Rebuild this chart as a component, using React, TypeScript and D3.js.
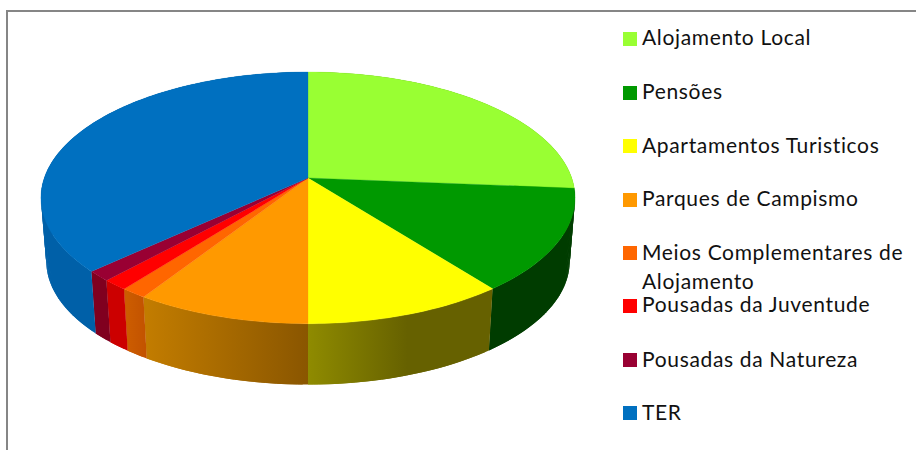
import React from "react";
import * as d3 from "d3";

const categories = [
  "Alojamento Local",
  "Pensões",
  "Apartamentos Turisticos",
  "Parques de Campismo",
  "Meios Complementares de|Alojamento",
  "Pousadas da Juventude",
  "Pousadas da Natureza",
  "TER",
];
const values = [26.3, 13.2, 10.5, 9.1, 1.35, 1.35, 1.3, 36.9];
const topColors = ["#99FF33", "#009900", "#FFFF00", "#FF9900", "#FF6600", "#FF0000", "#990033", "#0070C0"];
const wallLeft = ["#6FBF22", "#003C00", "#8F8B00", "#C27C00", "#CC5C00", "#CC0000", "#80001F", "#0060A8"];
const wallRight = ["#6FBF22", "#003C00", "#666100", "#8A5600", "#C25200", "#CC0000", "#80001F", "#00659F"];
const wallRamp = [1, 1, 0.55, 1, 1, 1, 1, 1];
const legendY = [39, 93, 146, 200, 253, 306, 360, 413];
const legendBaseline = [45, 98.5, 153, 206, 260, 312, 367, 420];

const W = 916;
const H = 450;
const CX = 308;
const CY = 178;
const RX = 263.7;
const SY = 122.7;
const K = -0.1577;
const WALL_SCALE = 0.98;
const VANISH_Y = 3370;

type P = [number, number];
const rimTop = (t: number): P => {
  const u = Math.sin(t);
  const v = -Math.cos(t);
  const d = 1 + K * v;
  return [CX + (RX * u) / d, CY + (SY * v) / d];
};
const rimBottom = (t: number): P => {
  const [x, y] = rimTop(t);
  return [CX + (x - CX) * WALL_SCALE, VANISH_Y + (y - VANISH_Y) * WALL_SCALE];
};
const line = d3.line<P>();
const sample = (a: number, b: number) => {
  const n = Math.max(2, Math.ceil(((b - a) * 180) / Math.PI));
  return d3.range(n + 1).map((i) => a + ((b - a) * i) / n);
};

export default function App() {
  const arcs = d3
    .pie<number>()
    .sort(null)
    .startAngle(0)
    .endAngle(2 * Math.PI)(values);

  return (
    <svg
      width={W}
      height={H}
      viewBox={`0 0 ${W} ${H}`}
      style={{ position: "absolute", left: 0, top: 0, display: "block", background: "#fff" }}
    >
      <defs>
        {arcs.map((a, i) => {
          const s = rimBottom(a.startAngle)[0];
          const e = rimBottom(a.endAngle)[0];
          return (
            <linearGradient
              key={i}
              id={`wall${i}`}
              gradientUnits="userSpaceOnUse"
              x1={Math.min(s, e)}
              x2={Math.max(s, e)}
              y1={0}
              y2={0}
            >
              <stop offset="0%" stopColor={wallLeft[i]} />
              <stop offset={`${wallRamp[i] * 100}%`} stopColor={wallRight[i]} />
            </linearGradient>
          );
        })}
      </defs>
      <path d={`M7 ${H + 5}V11H${W + 5}`} fill="none" stroke="#868686" strokeWidth={2} />

      {arcs.map((a, i) => {
        const ts = sample(a.startAngle, a.endAngle);
        return (
          <g key={i}>
            {ts.slice(1).map((_, j) => {
              const t0 = ts[j];
              const t1 = ts[Math.min(j + 2, ts.length - 1)];
              const quad: P[] = [rimTop(t0), rimTop(t1), rimBottom(t1), rimBottom(t0)];
              return <path key={j} d={line(quad) + "Z"} fill={`url(#wall${i})`} />;
            })}
          </g>
        );
      })}

      {arcs.map((a, i) => {
        const pts: P[] = [[CX, CY], ...sample(a.startAngle, a.endAngle).map(rimTop)];
        return <path key={i} d={line(pts) + "Z"} fill={topColors[i]} stroke={topColors[i]} strokeWidth={0.3} />;
      })}

      <g fontFamily="Lato, 'Open Sans', sans-serif" fontSize={21} letterSpacing={0.66} fill="#111">
        {categories.map((c, i) => {
          const lines = c.split("|");
          return (
            <g key={c}>
              <rect x={623} y={legendY[i] - 7} width={14} height={14} fill={topColors[i]} />
              {lines.map((l, j) => (
                <text key={l} x={642} y={legendBaseline[i] + j * 29}>
                  {l}
                </text>
              ))}
            </g>
          );
        })}
      </g>
    </svg>
  );
}
